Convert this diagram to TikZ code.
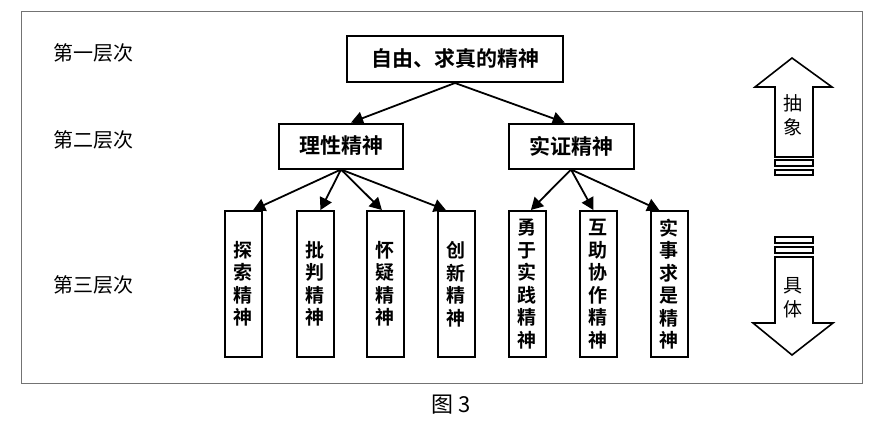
\documentclass[tikz,border=0pt]{standalone}
\usepackage{fontspec}
\usepackage{tikz}
\usetikzlibrary{arrows.meta,calc}
\newfontfamily\cjk{Noto Sans CJK SC}
\newfontfamily\cjkbold{Noto Sans CJK SC Bold}

\begin{document}
\begin{tikzpicture}[x=1pt,y=-1pt,
  levelbox/.style={draw,line width=2pt,inner sep=0pt,font=\cjkbold\fontsize{21}{25}\selectfont},
  leafbox/.style={levelbox,minimum width=37pt,minimum height=146pt,align=center,font=\cjkbold\fontsize{19}{22.5}\selectfont},
  levellabel/.style={font=\cjk\fontsize{20}{24}\selectfont},
  tree/.style={-{Triangle[length=12pt,width=13pt]},line width=1.8pt},
  bigarrow/.style={draw,line width=1.6pt,line join=miter}]
\useasboundingbox (0,0) rectangle (877,432);
\draw[black!55,line width=1pt] (21,11) rectangle (862,383);
% level labels
\node[levellabel] (lab1) at (93,53) {第一层次};
\node[levellabel] (lab2) at (93,140) {第二层次};
\node[levellabel] (lab3) at (93,285) {第三层次};
% tree
\node[levelbox,minimum width=216pt,minimum height=46pt] (top) at (455,59) {自由、求真的精神};
\node[levelbox,minimum width=124pt,minimum height=45pt] (reason) at (341,146) {理性精神};
\node[levelbox,minimum width=125pt,minimum height=45pt] (proof) at (571,146) {实证精神};
\node[leafbox] (l1) at (243,284) {探\\索\\精\\神};
\node[leafbox] (l2) at (315,284) {批\\判\\精\\神};
\node[leafbox] (l3) at (385,284) {怀\\疑\\精\\神};
\node[leafbox] (l4) at (456,284) {创\\新\\精\\神};
\node[leafbox] (l5) at (527,284) {勇\\于\\实\\践\\精\\神};
\node[leafbox] (l6) at (598,284) {互\\助\\协\\作\\精\\神};
\node[leafbox] (l7) at (669,284) {实\\事\\求\\是\\精\\神};
\draw[tree] (top.south) -- ($(reason.north west)!0.58!(reason.north east)$);
\draw[tree] (top.south) -- ($(proof.north west)!0.45!(proof.north east)$);
\foreach \leaf/\f in {l1/0.76,l2/0.64,l3/0.42,l4/0.24}
  \draw[tree] (reason.south) -- ($(\leaf.north west)!\f!(\leaf.north east)$);
\foreach \leaf/\f in {l5/0.6,l6/0.38,l7/0.25}
  \draw[tree] (proof.south) -- ($(\leaf.north west)!\f!(\leaf.north east)$);
% abstract / concrete arrows
\draw[bigarrow] (775,157) -- (775,87) -- (755,87) -- (792,58) -- (832,87) -- (813,87) -- (813,157) -- cycle;
\draw[line width=1.5pt] (775,160) rectangle (813,166) (775,170) rectangle (813,175);
\draw[line width=1.5pt] (775,237) rectangle (813,243) (775,247) rectangle (813,253);
\draw[bigarrow] (775,257) -- (775,323) -- (753,323) -- (792,355) -- (833,323) -- (813,323) -- (813,257) -- cycle;
\node[levellabel,font=\cjk\fontsize{19}{24}\selectfont,align=center] (up) at (793,115) {抽\\象};
\node[levellabel,font=\cjk\fontsize{19}{24}\selectfont,align=center] (down) at (793,298) {具\\体};
% caption
\node[font=\cjk\fontsize{22}{26}\selectfont] (cap) at (451,405) {图 3};
\end{tikzpicture}
\end{document}
